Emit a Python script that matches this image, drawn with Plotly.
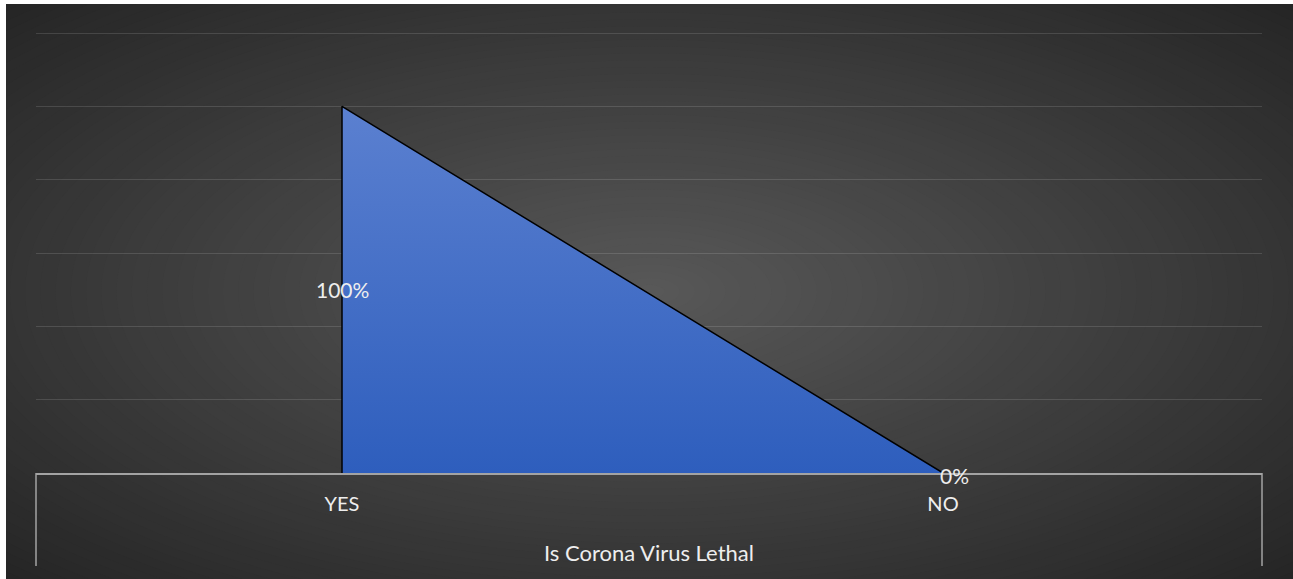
import plotly.graph_objects as go

# ---- data ----
categories = ["YES", "NO"]
values = [1.0, 0.0]
group_label = "Is Corona Virus Lethal"
value_labels = ["100%", "0%"]

W, H = 1293, 579
ML, MR, MT, MB = 36, 31, 29, 106
PW, PH = W - ML - MR, H - MT - MB
YMAX = 1.2 * PH / (H - MB - 33)

def px_x(p):
    return (p - ML) / PW

def px_y(p):
    return (H - MB - p) / PH

FONT = "Lato"
TXT = "#eeeeee"
AXC = "#a3a3a3"

shapes = []
# radial background gradient (chart area x 6..1293, y 4..579)
cx, cy = 649.5, 291.5
hx, hy = (1293 - 6) / 2 * 1.42, (579 - 4) / 2 * 1.42
c_in, c_out = 88, 37
shapes.append(dict(type="rect", xref="paper", yref="paper", layer="below",
                   x0=px_x(6), x1=px_x(1300), y0=px_y(4), y1=px_y(585),
                   fillcolor=f"rgb({c_out},{c_out},{c_out})", line_width=0))
N = 60
for i in range(N, 0, -1):
    d = i / N
    c = round(c_in + (c_out - c_in) * (d - 0.5 / N))
    shapes.append(dict(type="circle", xref="paper", yref="paper", layer="below",
                       x0=px_x(cx - d * hx), x1=px_x(cx + d * hx),
                       y0=px_y(cy + d * hy), y1=px_y(cy - d * hy),
                       fillcolor=f"rgb({c},{c},{c})", line_width=0))
# white margins top/left
shapes.append(dict(type="rect", xref="paper", yref="paper", layer="below",
                   x0=px_x(-10), x1=px_x(6), y0=px_y(-10), y1=px_y(600),
                   fillcolor="white", line_width=0))
shapes.append(dict(type="rect", xref="paper", yref="paper", layer="below",
                   x0=px_x(-10), x1=px_x(1300), y0=px_y(-10), y1=px_y(4),
                   fillcolor="white", line_width=0))
# category bracket lines
for xp in (0, 1):
    shapes.append(dict(type="line", xref="paper", yref="paper", layer="above",
                       x0=xp, x1=xp, y0=0, y1=px_y(566),
                       line=dict(color=AXC, width=1.5)))

fig = go.Figure()
fig.add_trace(go.Scatter(
    x=[categories[0]] + categories,
    y=[0] + values,
    mode="lines",
    fill="toself",
    fillgradient=dict(type="vertical", start=0, stop=1,
                      colorscale=[[0, "#2e5ebd"], [1, "#5b80d0"]]),
    line=dict(color="black", width=1.5),
    hoverinfo="skip",
    showlegend=False,
))

annotations = []
for i, (c, v) in enumerate(zip(categories, values)):
    annotations.append(dict(x=c, y=v / 2, xref="x", yref="y", text=value_labels[i],
                            showarrow=False, xanchor="center", yanchor="middle",
                            xshift=0 if v > 0 else 11, yshift=0 if v > 0 else -2,
                            font=dict(family=FONT, size=21, color=TXT)))
annotations.append(dict(x=0.5, y=px_y(552), xref="paper", yref="paper",
                        text=group_label, showarrow=False, xanchor="center",
                        yanchor="middle", font=dict(family=FONT, size=22, color=TXT)))

fig.update_layout(
    width=W, height=H,
    margin=dict(l=ML, r=MR, t=MT, b=MB, pad=0),
    paper_bgcolor="white",
    plot_bgcolor="rgba(0,0,0,0)",
    shapes=shapes,
    annotations=annotations,
    font=dict(family=FONT, size=20, color=TXT),
    xaxis=dict(type="category", categoryorder="array", categoryarray=categories,
               range=[-(342 - ML) / 601, (ML + PW - 342) / 601],
               showgrid=False, zeroline=False, showline=True, linecolor=AXC, linewidth=1.5,
               ticks="outside", ticklen=12, tickcolor="rgba(0,0,0,0)",
               tickfont=dict(family=FONT, size=20, color=TXT), fixedrange=True),
    yaxis=dict(range=[0, YMAX], dtick=0.2, tick0=0, showticklabels=False,
               showgrid=True, gridcolor="rgba(255,255,255,0.13)", gridwidth=1,
               zeroline=False, showline=False, fixedrange=True),
)

fig.write_html("out.html", config={"displayModeBar": False},
               post_script="document.body.style.margin='0';")
